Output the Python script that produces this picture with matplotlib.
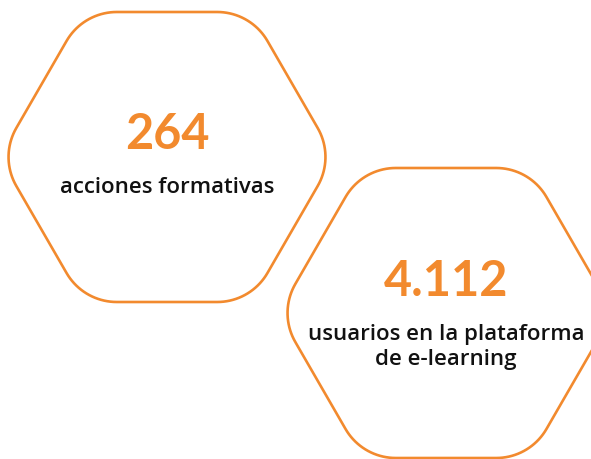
import numpy as np
import matplotlib
matplotlib.use("Agg")
import matplotlib.pyplot as plt
from matplotlib.patches import Polygon

# data
values = ["264", "4.112"]
labels = [["acciones formativas"], ["usuarios en la plataforma", "de e-learning"]]

# layout (pixels, y down)
centers = [(167, 158), (446, 314)]
value_y = [135, 282]
label_y = [193, 340]
line_gap = 25
half_h = 145
corner_r = 58
orange = "#F28A2E"


def rounded_hexagon(cx, cy, hh, r, n=20):
    R = hh * 2 / np.sqrt(3)
    ang = np.radians([180, 240, 300, 0, 60, 120])
    verts = np.c_[cx + R * np.cos(ang), cy + R * np.sin(ang)]
    pts = []
    for i in range(6):
        p = verts[i]
        a = verts[i - 1] - p
        b = verts[(i + 1) % 6] - p
        a /= np.linalg.norm(a)
        b /= np.linalg.norm(b)
        bis = (a + b) / np.linalg.norm(a + b)
        c = p + bis * r / np.sin(np.radians(60))
        t1 = p + a * r / np.tan(np.radians(60))
        t2 = p + b * r / np.tan(np.radians(60))
        a1 = np.arctan2(*(t1 - c)[::-1])
        a2 = np.arctan2(*(t2 - c)[::-1])
        da = (a2 - a1 + np.pi) % (2 * np.pi) - np.pi
        th = a1 + np.linspace(0, 1, n) * da
        pts.append(np.c_[c[0] + r * np.cos(th), c[1] + r * np.sin(th)])
    return np.vstack(pts)


fig = plt.figure(figsize=(5.91, 4.60), dpi=100)
ax = fig.add_axes([0, 0, 1, 1])
ax.set_xlim(0, 591)
ax.set_ylim(460, 0)
ax.axis("off")

for (cx, cy), vy, ly, val, lab in zip(centers, value_y, label_y, values, labels):
    hexa = rounded_hexagon(cx, cy, half_h, corner_r)
    ax.add_patch(Polygon(hexa, closed=True, fill=False, edgecolor=orange, lw=1.9))
    ax.text(cx, vy, val, ha="center", va="center", fontsize=35,
            fontweight="bold", color=orange, family="Lato")
    for i, line in enumerate(lab):
        ax.text(cx, ly + i * line_gap, line, ha="center", va="baseline",
                fontsize=16, fontweight="semibold", color="#111111",
                family="Open Sans")

fig.savefig("out.png", dpi=100)
